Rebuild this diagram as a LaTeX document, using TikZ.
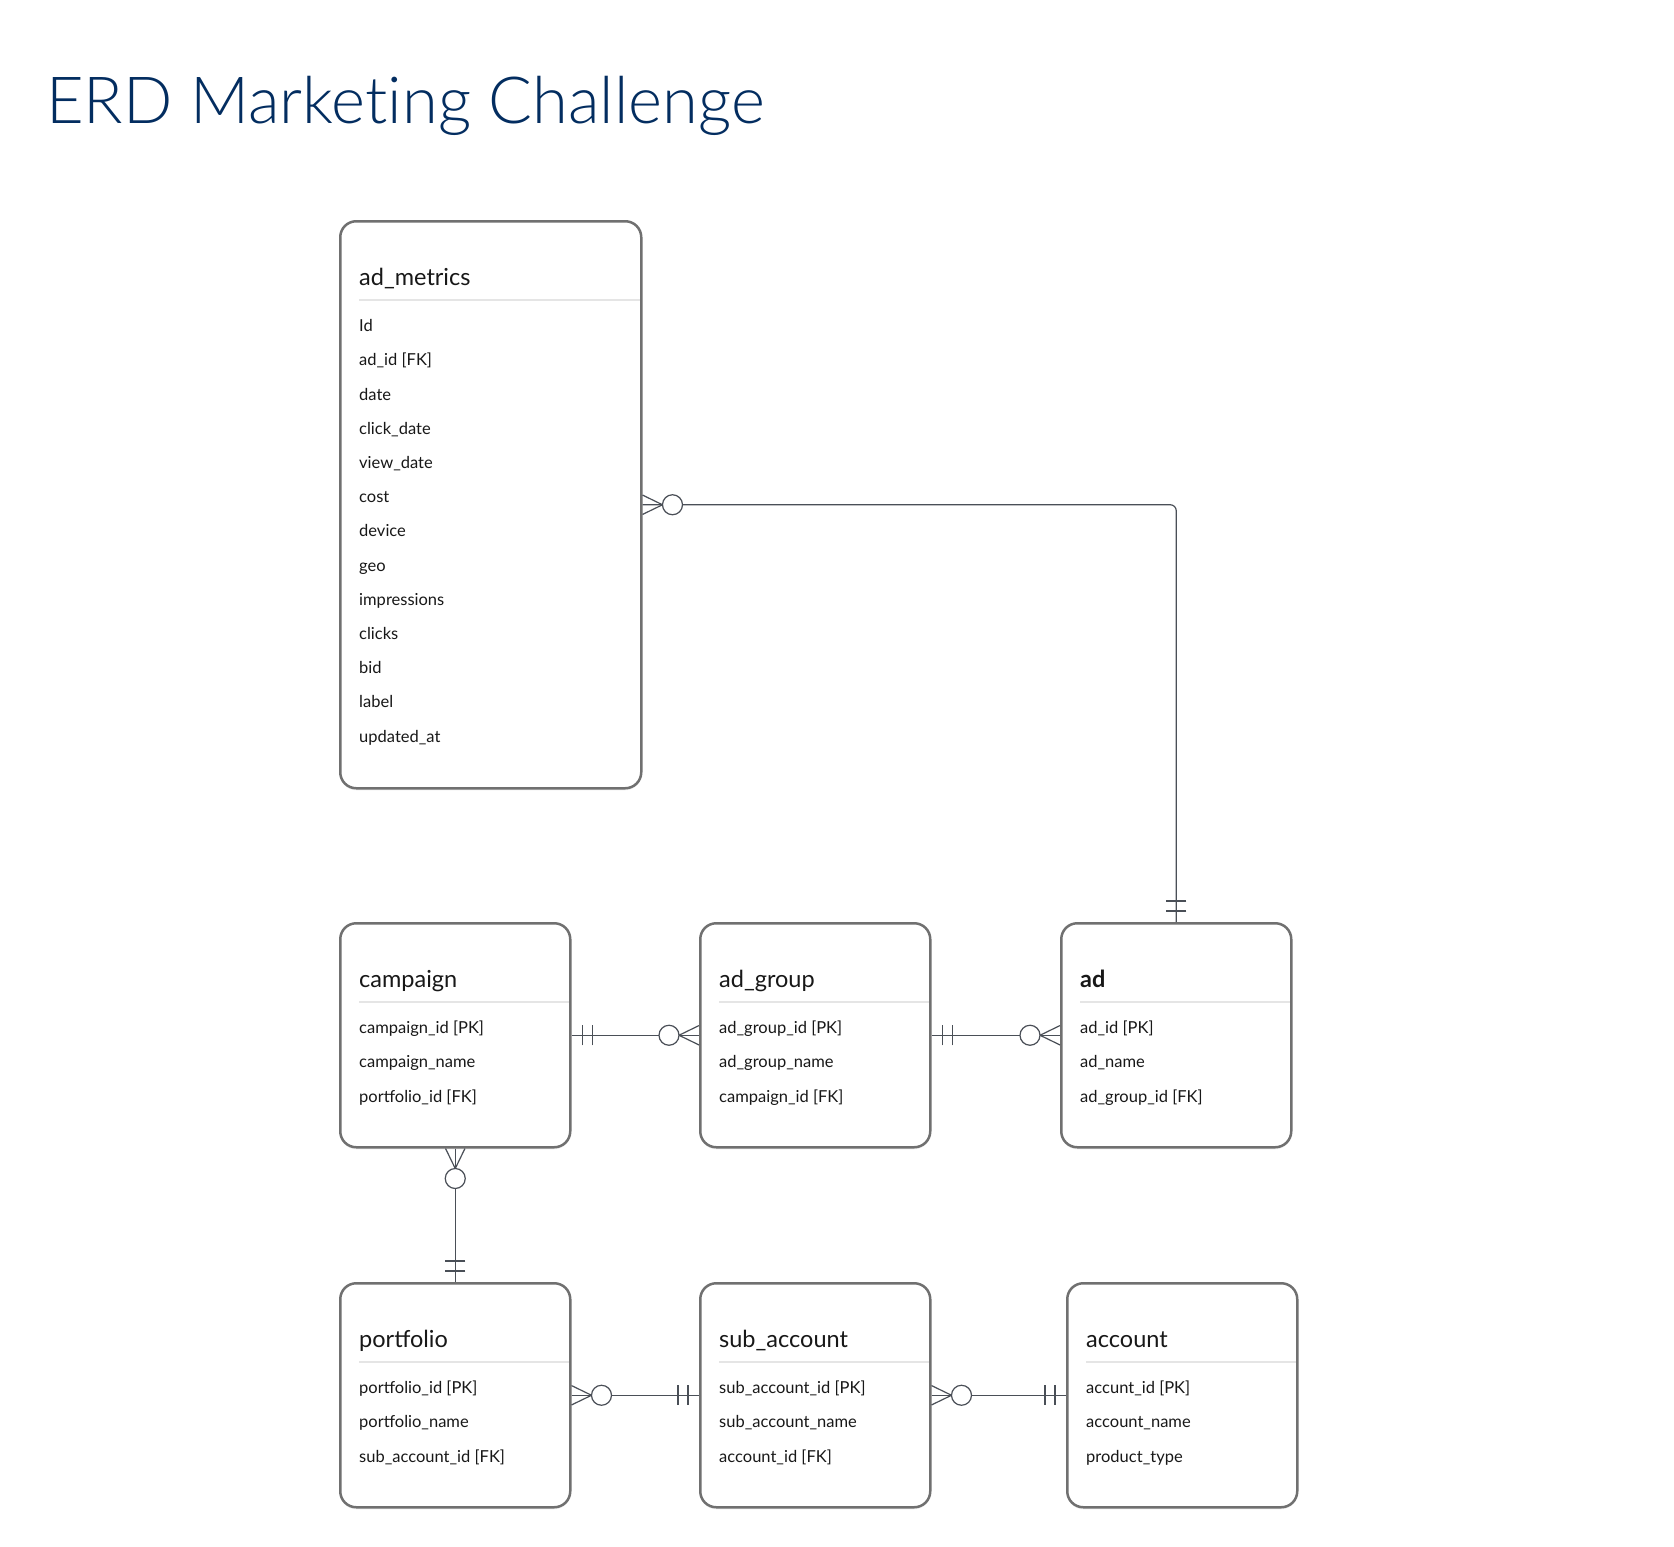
\documentclass[tikz,border=0pt]{standalone}
\usepackage{fontspec}
\setmainfont{Lato}
\newfontfamily\titlefont[Ligatures=NoCommon]{Lato Light}
\usetikzlibrary{calc,shadows}

\definecolor{erdnavy}{HTML}{032D60}
\definecolor{erdborder}{HTML}{707070}
\definecolor{erdrule}{HTML}{E5E5E5}
\definecolor{erdline}{HTML}{4A4F57}
\definecolor{erdtext}{HTML}{181818}

\tikzset{
  entity/.style={draw=erdborder, line width=2.5pt, rounded corners=16pt,
    fill=white, anchor=north west, inner sep=0pt,
    minimum width=230pt, minimum height=224pt,
    drop shadow={shadow xshift=0pt, shadow yshift=-2pt, opacity=0.12}},
  head/.style={anchor=base west, inner sep=0pt, text=erdtext,
    font=\fontsize{23.5}{28}\selectfont},
  field/.style={anchor=base west, inner sep=0pt, text=erdtext,
    font=\fontsize{16.5}{20}\selectfont},
  sep/.style={draw=erdrule, line width=2pt},
  rel/.style={draw=erdline, line width=1.2pt},
  zeromany/.pic={
    \draw[rel] (0pt,9.7pt) -- (20pt,0pt) -- (0pt,-9.7pt);
    \draw[rel] (0pt,0pt) -- (20pt,0pt);
    \draw[rel, fill=white] (30pt,0pt) circle[radius=10pt];
  },
  onlyone/.pic={
    \draw[rel] (11pt,-10pt) -- (11pt,10pt);
    \draw[rel] (21pt,-10pt) -- (21pt,10pt);
  }
}

\begin{document}
\begin{tikzpicture}[x=1pt,y=-1pt]
  \fill[white] (0,0) rectangle (1674,1547);
  \useasboundingbox (0,0) rectangle (1674,1547);

  \node[anchor=base west, inner sep=0pt, text=erdnavy,
    font=\titlefont\fontsize{65}{78}\selectfont] (title) at (46,123)
    {ERD Marketing Challenge};

  % tables
  \node[entity, minimum width=301pt, minimum height=567pt] (metrics) at (339,220) {};
  \foreach \ent/\x/\y in {campaign/339/922, adgroup/699/922, ad/1060/922,
      portfolio/339/1282, subaccount/699/1282, account/1066/1282} {
    \node[entity] (\ent) at (\x,\y) {};
  }

  \foreach \ent/\name/\rows in {
      metrics/{ad\_metrics}/{Id,ad\_id [FK],date,click\_date,view\_date,cost,device,geo,impressions,clicks,bid,label,updated\_at},
      campaign/{campaign}/{campaign\_id [PK],campaign\_name,portfolio\_id [FK]},
      adgroup/{ad\_group}/{ad\_group\_id [PK],ad\_group\_name,campaign\_id [FK]},
      ad/{\textbf{ad}}/{ad\_id [PK],ad\_name,ad\_group\_id [FK]},
      portfolio/{portfolio}/{portfolio\_id [PK],portfolio\_name,sub\_account\_id [FK]},
      subaccount/{sub\_account}/{sub\_account\_id [PK],sub\_account\_name,account\_id [FK]},
      account/{account}/{accunt\_id [PK],account\_name,product\_type}} {
    \node[head] (\ent-h) at ($(\ent.north west)+(20,65)$) {\name};
    \draw[sep] ($(\ent.north west)+(20,80)$) -- ($(\ent.north east)+(-2.5,80)$);
    \foreach \row [count=\i] in \rows {
      \node[field] (\ent-\i) at ($(\ent.north west)+(20,{111.7+34.2*(\i-1)})$) {\row};
    }
  }

  % relations
  \draw[rel, rounded corners=6pt] (metrics.east) -| (ad.north);
  \draw[rel] (campaign.east) -- (adgroup.west);
  \draw[rel] (adgroup.east) -- (ad.west);
  \draw[rel] (campaign.south) -- (portfolio.north);
  \draw[rel] (portfolio.east) -- (subaccount.west);
  \draw[rel] (subaccount.east) -- (account.west);

  \pic at (metrics.east) {zeromany};
  \pic[rotate=90] at (ad.north) {onlyone};
  \pic at (campaign.east) {onlyone};
  \pic[rotate=180] at (adgroup.west) {zeromany};
  \pic at (adgroup.east) {onlyone};
  \pic[rotate=180] at (ad.west) {zeromany};
  \pic[rotate=-90] at (campaign.south) {zeromany};
  \pic[rotate=90] at (portfolio.north) {onlyone};
  \pic at (portfolio.east) {zeromany};
  \pic[rotate=180] at (subaccount.west) {onlyone};
  \pic at (subaccount.east) {zeromany};
  \pic[rotate=180] at (account.west) {onlyone};
\end{tikzpicture}
\end{document}
